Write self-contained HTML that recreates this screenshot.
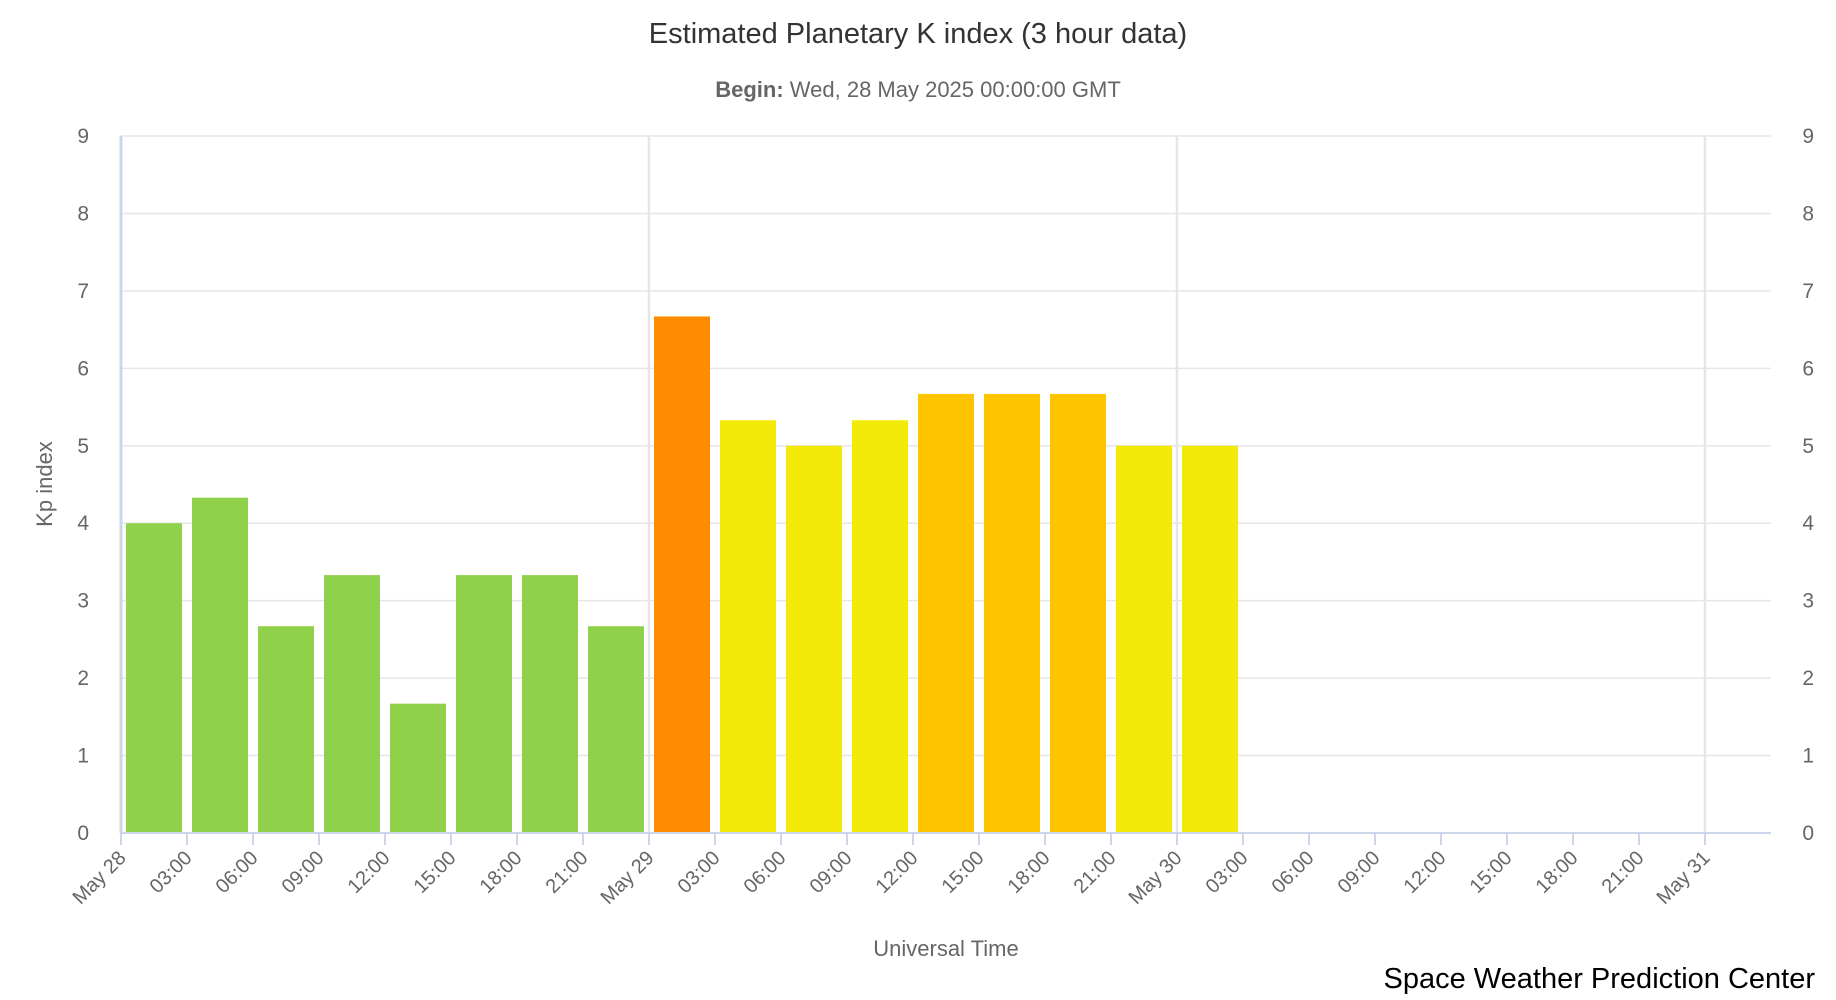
<!DOCTYPE html>
<html><head><meta charset="utf-8"><style>
html,body{margin:0;padding:0;background:#fff;}
svg{display:block;font-family:"Liberation Sans","DejaVu Sans",sans-serif;}
</style></head><body>
<svg id="chart" width="1836" height="1000" viewBox="0 0 1836 1000">
<text x="918" y="43" text-anchor="middle" font-size="29" fill="#333">Estimated Planetary K index (3 hour data)</text>
<text x="918" y="97" text-anchor="middle" font-size="22" fill="#666"><tspan font-weight="bold">Begin:</tspan> Wed, 28 May 2025 00:00:00 GMT</text>
<g id="grid"></g>
<g id="bars"></g>
<g id="axes"></g>
<text transform="translate(52,484) rotate(-90)" text-anchor="middle" font-size="22" fill="#666">Kp index</text>
<text x="946" y="956" text-anchor="middle" font-size="22" fill="#666">Universal Time</text>
<text x="1815" y="988" text-anchor="end" font-size="29" fill="#000">Space Weather Prediction Center</text>
</svg>
<script>
const kpValues=[4,4.33,2.67,3.33,1.67,3.33,3.33,2.67,6.67,5.33,5,5.33,5.67,5.67,5.67,5,5];
const barColors=["#8fd14a","#8fd14a","#8fd14a","#8fd14a","#8fd14a","#8fd14a","#8fd14a","#8fd14a","#ff8c00","#f4ea0a","#f4ea0a","#f4ea0a","#ffc400","#ffc400","#ffc400","#f4ea0a","#f4ea0a"];
const yTicks=[0,1,2,3,4,5,6,7,8,9];
const xTickLabels=["May 28","03:00","06:00","09:00","12:00","15:00","18:00","21:00","May 29","03:00","06:00","09:00","12:00","15:00","18:00","21:00","May 30","03:00","06:00","09:00","12:00","15:00","18:00","21:00","May 31"];
const NS="http://www.w3.org/2000/svg";
const L=121,R=1771,T=136,B=833,HR=(1705-121)/72;
const x=h=>L+h*HR, y=v=>B-(v/9)*(B-T);
function mk(tag,attrs,parent){const e=document.createElementNS(NS,tag);for(const k in attrs)e.setAttribute(k,attrs[k]);parent.appendChild(e);return e;}
const grid=document.getElementById('grid'),bars=document.getElementById('bars'),axes=document.getElementById('axes');
yTicks.forEach(v=>{
  const gl=mk('line',{x1:L,x2:R,y1:y(v),y2:y(v),stroke:'#e6e6e6','stroke-width':1.5},grid);
  
  
  const t1=mk('text',{x:89,y:y(v)+7,'text-anchor':'end','font-size':21,fill:'#666'},axes);t1.textContent=v;
  
  
  const t2=mk('text',{x:1814,y:y(v)+7,'text-anchor':'end','font-size':21,fill:'#666'},axes);t2.textContent=v;
  
  
});
[24,48,72].forEach(h=>{
  const vl=mk('line',{x1:x(h),x2:x(h),y1:T,y2:B,stroke:'#e6e6e6','stroke-width':2.5},grid);
  
  
});
const slot=3*HR,bw=slot-10;
kpValues.forEach((v,i)=>{
  const r=mk('rect',{x:x(i*3)+5,y:y(v),width:bw,height:B-y(v),fill:barColors[i]},bars);
  
  
});
const la=mk('line',{x1:L,x2:L,y1:T,y2:B,stroke:'#ccd6eb','stroke-width':3},axes);


const ba=mk('line',{x1:L,x2:R,y1:B,y2:B,stroke:'#ccd6eb','stroke-width':2},axes);


xTickLabels.forEach((lab,i)=>{
  const xx=x(i*3);
  const tk=mk('line',{x1:xx,x2:xx,y1:B,y2:B+12,stroke:'#ccd6eb','stroke-width':2},axes);
  
  
  const t=mk('text',{x:xx+6,y:B+26,'text-anchor':'end','font-size':20,fill:'#666',transform:`rotate(-45 ${xx+6} ${B+26})`},axes);
  t.textContent=lab;
  
  
});
</script>
</body></html>
